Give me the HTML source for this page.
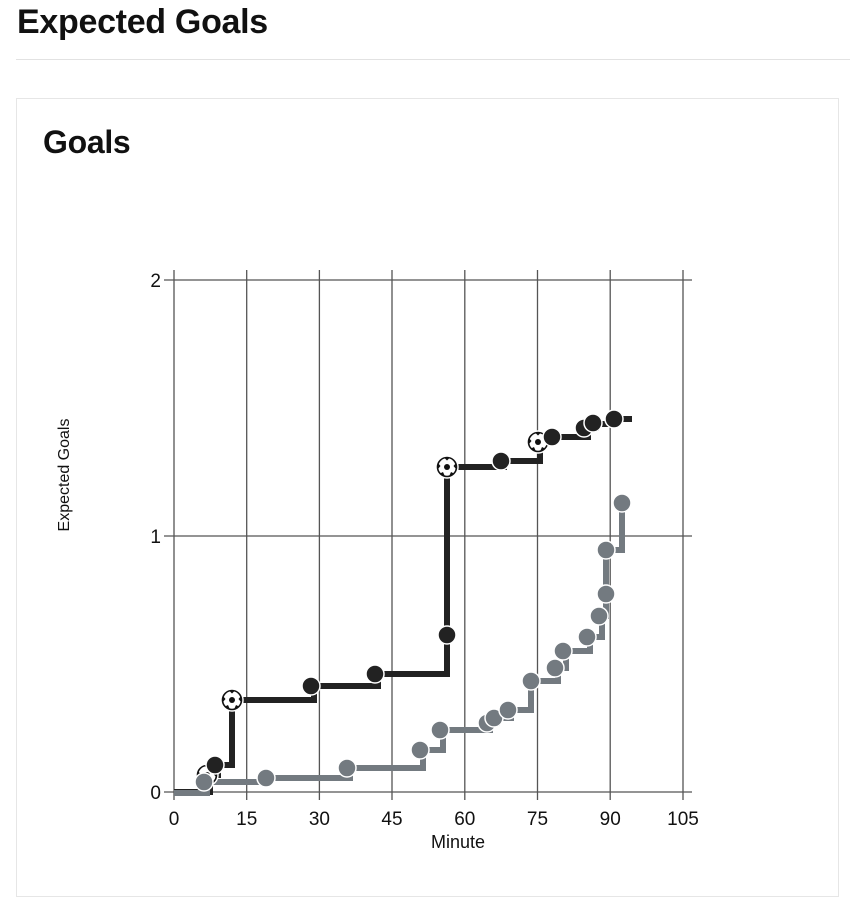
<!DOCTYPE html>
<html><head><meta charset="utf-8"><style>
body{margin:0;background:#fff;width:850px;height:908px;overflow:hidden;font-family:"Liberation Sans",sans-serif;}
</style></head><body>
<div style="position:absolute;left:17px;top:3px;font-size:34px;font-weight:bold;letter-spacing:-0.3px;color:#111;">Expected Goals</div>
<div style="position:absolute;left:16px;top:59px;width:834px;height:1px;background:#e2e2e2;"></div>
<div style="position:absolute;left:16px;top:98px;width:821px;height:797px;border:1px solid #e6e6e6;"></div>
<div style="position:absolute;left:43px;top:124px;font-size:32px;font-weight:bold;letter-spacing:-0.3px;color:#111;">Goals</div>
<svg width="850" height="908" style="position:absolute;left:0;top:0" font-family="Liberation Sans, sans-serif">
<defs>
<g id="ball">
<circle r="11" fill="#fff" stroke="#fff" stroke-width="1.5"/>
<circle r="9.5" fill="#fff" stroke="#111" stroke-width="1.6"/>
<circle r="3" fill="#111" stroke="none"/>
<path d="M-3,-9.5 L3,-9.5 L0,-6.5Z M9,-4 L9,2 L6.5,-1Z M-9,-4 L-9,2 L-6.5,-1Z M-7,6.5 L-2,9.5 L-4,5Z M7,6.5 L2,9.5 L4,5Z" fill="#111" stroke="none"/>
</g>
</defs>
<g stroke="#555" stroke-width="1.3">
<line x1="164" y1="280" x2="692" y2="280"/>
<line x1="164" y1="536" x2="692" y2="536"/>
<line x1="164" y1="792" x2="692" y2="792"/>
<line x1="174" y1="270" x2="174" y2="800"/>
<line x1="246.7" y1="270" x2="246.7" y2="800"/>
<line x1="319.4" y1="270" x2="319.4" y2="800"/>
<line x1="392" y1="270" x2="392" y2="800"/>
<line x1="464.8" y1="270" x2="464.8" y2="800"/>
<line x1="537.5" y1="270" x2="537.5" y2="800"/>
<line x1="610.2" y1="270" x2="610.2" y2="800"/>
<line x1="683" y1="270" x2="683" y2="800"/>
</g>
<g font-size="19" fill="#111" text-anchor="middle">
<text x="174" y="825">0</text><text x="246.7" y="825">15</text><text x="319.4" y="825">30</text><text x="392" y="825">45</text><text x="464.8" y="825">60</text><text x="537.5" y="825">75</text><text x="610.2" y="825">90</text><text x="683" y="825">105</text>
<text x="161" y="799" text-anchor="end">0</text><text x="161" y="543" text-anchor="end">1</text><text x="161" y="287" text-anchor="end">2</text>
<text x="458" y="848" font-size="18">Minute</text>
<text transform="translate(69,475) rotate(-90)" font-size="16">Expected Goals</text>
</g>
<path d="M174,792 H210 V775 H218 V765 H232 V700 H314 V686 H378 V674 H447 V467 H504 V461 H540 V441 H555 V437 H588 V428 H596 V424 H616 V419 H632" fill="none" stroke="#222" stroke-width="6"/>
<path d="M174,793 H207 V782 H269 V778 H350 V768 H423 V750 H443 V730 H490 V723 H497 V718 H511 V710 H531 V681 H558 V668 H566 V651 H590 V637 H602 V616 H606 V550 H622 V503" fill="none" stroke="#737a80" stroke-width="6"/>
<use href="#ball" x="207" y="775"/>
<g fill="#222" stroke="#fff" stroke-width="1.5">
<circle cx="215" cy="765" r="9"/>
</g>
<use href="#ball" x="232" y="700"/>
<g fill="#222" stroke="#fff" stroke-width="1.5">
<circle cx="311" cy="686" r="9"/>
<circle cx="375" cy="674" r="9"/>
<circle cx="447" cy="635" r="9"/>
</g>
<use href="#ball" x="447" y="467"/>
<use href="#ball" x="538" y="442"/>
<g fill="#222" stroke="#fff" stroke-width="1.5">
<circle cx="501" cy="461" r="9"/>
<circle cx="552" cy="437" r="9"/>
<circle cx="584" cy="428" r="9"/>
<circle cx="593" cy="423" r="9"/>
<circle cx="614" cy="419" r="9"/>
</g>
<g fill="#737a80" stroke="#fff" stroke-width="1.5">
<circle cx="204" cy="782" r="9"/>
<circle cx="266" cy="778" r="9"/>
<circle cx="347" cy="768" r="9"/>
<circle cx="420" cy="750" r="9"/>
<circle cx="440" cy="730" r="9"/>
<circle cx="487" cy="723" r="9"/>
<circle cx="494" cy="718" r="9"/>
<circle cx="508" cy="710" r="9"/>
<circle cx="531" cy="681" r="9"/>
<circle cx="555" cy="668" r="9"/>
<circle cx="563" cy="651" r="9"/>
<circle cx="587" cy="637" r="9"/>
<circle cx="599" cy="616" r="9"/>
<circle cx="606" cy="594" r="9"/>
<circle cx="606" cy="550" r="9"/>
<circle cx="622" cy="503" r="9"/>
</g>
</svg>
</body></html>
